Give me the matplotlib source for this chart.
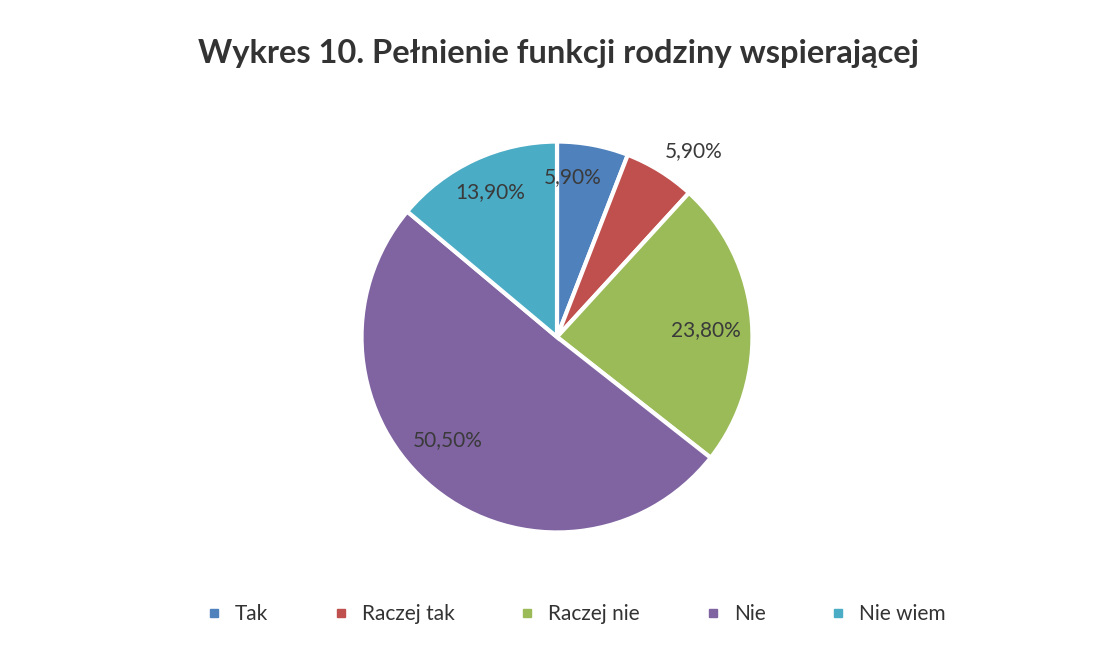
import matplotlib.pyplot as plt
from matplotlib.lines import Line2D

plt.rcParams['font.family'] = ['Lato', 'DejaVu Sans']

# data
categories = ['Tak', 'Raczej tak', 'Raczej nie', 'Nie', 'Nie wiem']
values = [5.9, 5.9, 23.8, 50.5, 13.9]
colors = ['#4F81BD', '#C0504D', '#9BBB59', '#8064A2', '#4BACC6']
# label positions (in pie radius units)
label_xy = [(0.08, 0.82), (0.70, 0.95), (0.76, 0.035), (-0.56, -0.53), (-0.34, 0.74)]

fig = plt.figure(figsize=(10.93, 6.49), dpi=100)
ax = fig.add_axes([(557 - 215) / 1093, (312 - 215) / 649, 430 / 1093, 430 / 649])

wedges, _ = ax.pie(values, colors=colors, startangle=90, counterclock=False,
                   wedgeprops=dict(edgecolor='white', linewidth=3))
ax.set_xlim(-1.1, 1.1)
ax.set_ylim(-1.1, 1.1)
ax.set_aspect('equal')

for v, (x, y) in zip(values, label_xy):
    ax.text(x, y, f'{v:.2f}%'.replace('.', ','), ha='center', va='center',
            fontsize=15, color='#3a3a3a')

fig.text(0.511, 0.918, 'Wykres 10. Pełnienie funkcji rodziny wspierającej',
         ha='center', va='center', fontsize=23.5, fontweight='bold', color='#333333')

handles = [Line2D([], [], marker='s', linestyle='', markersize=6,
                  markerfacecolor=c, markeredgecolor=c) for c in colors]
fig.legend(handles, categories, loc='center', bbox_to_anchor=(0.521, 0.054), ncol=5,
           frameon=False, fontsize=15, handletextpad=0.0, columnspacing=2.5,
           labelcolor='#333333')

fig.savefig('out.png', dpi=100, facecolor='white')
